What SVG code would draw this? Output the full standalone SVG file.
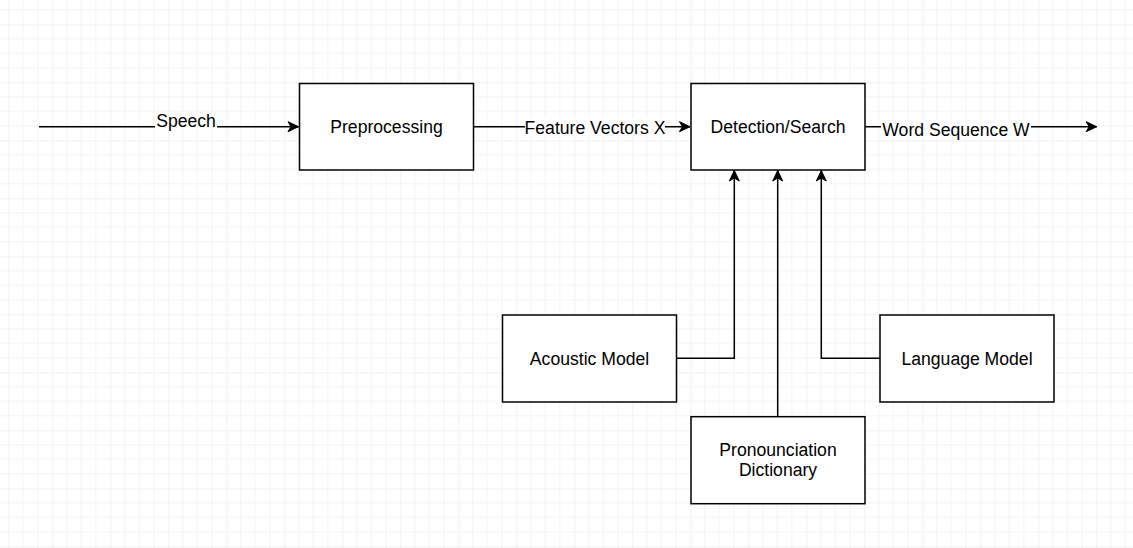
<svg xmlns="http://www.w3.org/2000/svg" width="1133" height="548" viewBox="0 0 1133 548">
  <defs>
    <pattern id="grid" patternUnits="userSpaceOnUse" x="-5.7" y="-33.7" width="58" height="58">
      <path d="M14.5 0V58M29 0V58M43.5 0V58M0 14.5H58M0 29H58M0 43.5H58" stroke="#f3f3f3" stroke-width="1" fill="none"/>
      <path d="M0 0V58M0 0H58" stroke="#e4e4e4" stroke-width="1" fill="none"/>
    </pattern>
    <marker id="arr" markerUnits="userSpaceOnUse" markerWidth="14" markerHeight="12" refX="12" refY="6" orient="auto" overflow="visible">
      <path d="M12 6 L1.5 1 L4.5 6 L1.5 11 Z" fill="#000" stroke="#000" stroke-width="1"/>
    </marker>
    <style>
      .box { fill: #fff; stroke: #000; stroke-width: 1.5; }
      .lbl { font-family: "Liberation Sans", Arial, sans-serif; font-size: 17.6px; fill: #000; text-anchor: middle; }
      .edge { fill: none; stroke: #000; stroke-width: 1.5; }
      .bg { fill: #fff; }
    </style>
  </defs>
  <rect x="0" y="0" width="1133" height="548" fill="#fff"/>
  <rect x="0" y="0" width="1133" height="548" fill="url(#grid)"/>

  <g id="connectors">
    <path class="edge" d="M39 126.7H298.5" marker-end="url(#arr)"/>
    <path class="edge" d="M473.7 126.7H690" marker-end="url(#arr)"/>
    <path class="edge" d="M865.3 126.7H1096.7" marker-end="url(#arr)"/>
    <path class="edge" d="M676.7 358.3H734.3V170.5" marker-end="url(#arr)"/>
    <path class="edge" d="M777.7 416.7V170.5" marker-end="url(#arr)"/>
    <path class="edge" d="M880 358.3H821.3V170.5" marker-end="url(#arr)"/>
    <rect class="bg" x="155" y="112" width="62" height="17"/>
    <text class="lbl" x="186" y="126.5">Speech</text>
    <rect class="bg" x="525" y="118" width="140" height="18"/>
    <text class="lbl" x="595" y="133.5">Feature Vectors X</text>
    <rect class="bg" x="881" y="120" width="150" height="18"/>
    <text class="lbl" x="956" y="136">Word Sequence W</text>
  </g>

  <g id="preprocessing">
    <rect class="box" x="299.5" y="83.5" width="174" height="86.5"/>
    <text class="lbl" x="386.5" y="133">Preprocessing</text>
  </g>
  <g id="detection">
    <rect class="box" x="691" y="83.5" width="174" height="86.5"/>
    <text class="lbl" x="778" y="133">Detection/Search</text>
  </g>
  <g id="acoustic">
    <rect class="box" x="502.5" y="315" width="174" height="87"/>
    <text class="lbl" x="589.5" y="365">Acoustic Model</text>
  </g>
  <g id="pronounciation">
    <rect class="box" x="691" y="416.7" width="174" height="87"/>
    <text class="lbl" x="778" y="455.5">Pronounciation</text>
    <text class="lbl" x="778" y="476">Dictionary</text>
  </g>
  <g id="language">
    <rect class="box" x="880" y="315" width="174" height="87"/>
    <text class="lbl" x="967" y="365">Language Model</text>
  </g>
</svg>
